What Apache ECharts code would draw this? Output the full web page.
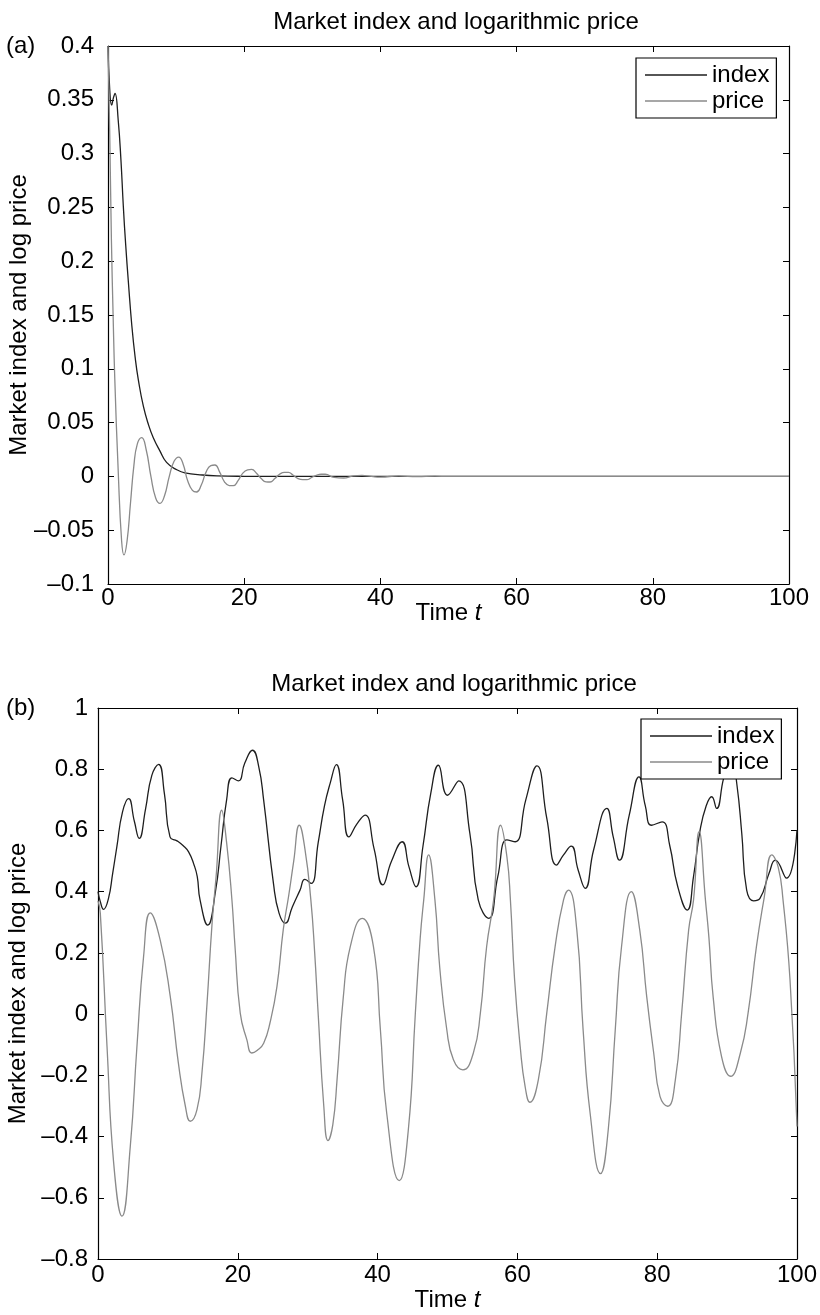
<!DOCTYPE html>
<html>
<head>
<meta charset="utf-8">
<script src="https://cdn.jsdelivr.net/npm/echarts@6/dist/echarts.min.js"></script>
<style>
html,body{margin:0;padding:0;background:#fff;}
#chart{width:820px;height:1315px;}
</style>
</head>
<body>
<div id="chart"></div>
<script>
// ---------- data ----------
const chartTitle = 'Market index and logarithmic price';
const yAxisTitle = 'Market index and log price';
const seriesNames = ['index', 'price'];

// Panel (a)
const indexA = [[0,0.40],[0.25,0.36],[0.54,0.345],[0.8,0.352],[1.03,0.356],[1.5,0.331],[1.9,0.294],[2.25,0.251],[2.6,0.215],[3.0,0.18],[3.5,0.14],[4.0,0.11],[4.45,0.09],[5.2,0.065],[6.0,0.047],[6.65,0.036],[7.6,0.024],[8.6,0.013],[10.1,0.0062],[11.5,0.003],[13.5,0.0015],[16,0.0005],[20,0.0001],[25,0],[100,0]];
const priceA = [[0,0.40],[0.25,0.32],[0.5,0.22],[0.75,0.15],[1.0,0.09],[1.5,0.005],[2.0,-0.06],[2.35,-0.073],[2.8,-0.06],[3.3,-0.025],[3.8,0.01],[4.3,0.03],[4.95,0.036],[5.6,0.025],[6.3,0.0],[7.0,-0.02],[7.63,-0.025],[8.3,-0.018],[9.0,0.0],[9.7,0.014],[10.38,0.018],[11.0,0.012],[11.7,-0.004],[12.4,-0.013],[13.0,-0.0145],[13.7,-0.008],[14.4,0.004],[15.1,0.010],[15.7,0.0106],[16.4,0.004],[17.1,-0.005],[17.8,-0.0085],[18.4,-0.0086],[19.1,-0.004],[19.8,0.003],[20.5,0.006],[21.1,0.0065],[21.8,0.003],[22.5,-0.002],[23.2,-0.005],[23.8,-0.0052],[24.5,-0.002],[25.2,0.002],[25.9,0.0037],[26.5,0.0037],[27.2,0.001],[27.9,-0.002],[28.6,-0.003],[29.2,-0.003],[29.9,-0.001],[30.6,0.001],[31.3,0.002],[31.9,0.002],[33.2,-0.001],[34.6,-0.0015],[36.0,0.0005],[37.3,0.001],[38.7,0],[40,-0.0007],[42.7,0.0005],[45.4,-0.0003],[48,0.0002],[50,0],[100,0]];

// Panel (b)
const indexB = [[0,0.40],[0.3,0.37],[0.8,0.342],[1.5,0.378],[2.1,0.46],[2.7,0.547],[3.5,0.66],[4.38,0.704],[5.2,0.63],[5.9,0.574],[6.8,0.67],[7.7,0.78],[8.67,0.816],[9.5,0.72],[10.3,0.579],[11.3,0.566],[12.2,0.55],[12.96,0.530],[13.7,0.49],[14.2,0.449],[14.6,0.373],[15.7,0.291],[16.8,0.40],[17.6,0.55],[18.4,0.70],[19.16,0.772],[20.1,0.762],[21.0,0.82],[22.1,0.862],[23.0,0.808],[23.7,0.699],[25.1,0.427],[25.9,0.33],[26.8,0.297],[27.8,0.35],[28.9,0.405],[29.6,0.44],[30.5,0.427],[31.5,0.56],[32.4,0.68],[33.2,0.753],[34.1,0.815],[35.0,0.70],[35.9,0.579],[37.0,0.62],[38.2,0.650],[39.5,0.54],[40.75,0.422],[42,0.50],[43.5,0.563],[44.5,0.48],[45.5,0.416],[46.5,0.55],[47.6,0.72],[48.7,0.813],[50.0,0.715],[51.6,0.762],[53.2,0.59],[54.4,0.373],[55.9,0.313],[57.2,0.45],[58.5,0.569],[59.7,0.563],[61.2,0.7],[62.8,0.811],[64.2,0.64],[65.6,0.487],[66.6,0.52],[67.7,0.549],[68.7,0.47],[69.7,0.411],[70.9,0.536],[72.8,0.672],[73.7,0.58],[74.6,0.503],[76.0,0.65],[77.4,0.775],[78.3,0.68],[79.2,0.617],[80.7,0.628],[81.8,0.55],[82.9,0.42],[84.3,0.34],[85.2,0.45],[86.1,0.596],[87.0,0.68],[87.8,0.71],[88.5,0.672],[89.5,0.77],[90.6,0.85],[91.4,0.75],[92.1,0.59],[92.8,0.405],[93.8,0.37],[94.7,0.378],[96.0,0.46],[96.9,0.503],[98.5,0.444],[100,0.601]];
const priceB = [[0,0.37],[0.33,0.33],[1.29,-0.106],[2.24,-0.486],[3.43,-0.66],[4.62,-0.432],[5.57,-0.106],[6.52,0.188],[7.48,0.331],[8.9,0.242],[10.34,0.057],[11.5,-0.16],[12.5,-0.301],[13.2,-0.35],[14.16,-0.312],[14.87,-0.192],[15.6,0.036],[16.3,0.29],[16.9,0.45],[17.7,0.666],[18.4,0.56],[19.16,0.373],[19.6,0.221],[20.35,0.003],[21.3,-0.084],[22.0,-0.127],[22.8,-0.118],[23.7,-0.095],[24.6,-0.029],[25.6,0.09],[26.5,0.275],[27.3,0.39],[28.0,0.5],[28.8,0.617],[29.6,0.54],[30.45,0.373],[31.0,0.2],[31.5,0.0],[32.3,-0.30],[32.9,-0.413],[33.6,-0.36],[34.2,-0.214],[35.1,0.057],[36.1,0.221],[37.8,0.313],[39.4,0.221],[40.4,-0.051],[41.3,-0.323],[43.1,-0.544],[44.4,-0.377],[45.4,0.003],[46.1,0.25],[46.6,0.373],[47.3,0.52],[48.2,0.373],[48.9,0.15],[49.9,-0.051],[50.85,-0.149],[52.2,-0.182],[53.7,-0.127],[54.7,0.003],[55.6,0.221],[56.6,0.373],[57.6,0.617],[58.5,0.514],[59.0,0.373],[59.6,0.112],[60.4,-0.106],[61.1,-0.236],[61.8,-0.288],[63.0,-0.214],[64.2,0.003],[65.4,0.221],[66.6,0.373],[67.3,0.405],[68.5,0.275],[69.4,-0.051],[70.4,-0.323],[71.9,-0.521],[73.0,-0.377],[74.0,-0.051],[74.9,0.221],[76.3,0.40],[77.5,0.275],[78.5,0.057],[79.5,-0.127],[80.4,-0.269],[81.5,-0.301],[82.6,-0.214],[83.5,0.003],[84.5,0.275],[85.2,0.373],[86.0,0.596],[86.9,0.373],[87.4,0.25],[88.0,0.057],[89.2,-0.138],[90.5,-0.203],[91.9,-0.127],[93.0,0.003],[94.2,0.221],[95.3,0.38],[96.4,0.52],[97.3,0.481],[98.0,0.373],[99.0,0.112],[100,-0.367]];

// axis ranges
const xRange = {min: 0, max: 100, interval: 20};
const yRangeA = {min: -0.1, max: 0.4, interval: 0.05};
const yRangeB = {min: -0.8, max: 1, interval: 0.2};

// ---------- styling ----------
const FONT = '"Liberation Sans", Arial, Helvetica, sans-serif';
const FS = 24;
const INDEX_COLOR = '#1e1e1e';
const PRICE_COLOR = '#8a8a8a';

function fmt(v) {
  const s = String(Math.round(v * 1000) / 1000);
  return s.replace('-', '\u2013');
}

function xAxisPair(gridIndex, labelMargin, nameGap) {
  const base = {
    type: 'value', gridIndex: gridIndex,
    min: xRange.min, max: xRange.max, interval: xRange.interval,
    axisLine: {show: true, onZero: false, lineStyle: {color: '#000', width: 1.2}},
    axisTick: {show: true, inside: true, length: 6, lineStyle: {color: '#000', width: 1}},
    splitLine: {show: false}
  };
  return [
    Object.assign({}, base, {
      position: 'bottom',
      axisLabel: {color: '#000', fontFamily: FONT, fontSize: FS, margin: labelMargin, formatter: fmt},
      name: '{n|Time }{i|t}', nameLocation: 'middle', nameGap: nameGap, nameMoveOverlap: false,
      nameTextStyle: {rich: {n: {fontFamily: FONT, fontSize: FS, color: '#000'}, i: {fontFamily: FONT, fontSize: FS, fontStyle: 'italic', color: '#000'}}}
    }),
    Object.assign({}, base, {position: 'top', axisLabel: {show: false}})
  ];
}

function yAxisPair(gridIndex, r, labelMargin, nameGap) {
  const base = {
    type: 'value', gridIndex: gridIndex,
    min: r.min, max: r.max, interval: r.interval,
    axisLine: {show: true, onZero: false, lineStyle: {color: '#000', width: 1.2}},
    axisTick: {show: true, inside: true, length: 6, lineStyle: {color: '#000', width: 1}},
    splitLine: {show: false}
  };
  return [
    Object.assign({}, base, {
      position: 'left',
      axisLabel: {color: '#000', fontFamily: FONT, fontSize: FS, margin: labelMargin, formatter: fmt},
      name: yAxisTitle, nameLocation: 'middle', nameGap: nameGap, nameMoveOverlap: false,
      nameTextStyle: {fontFamily: FONT, fontSize: FS, color: '#000'}
    }),
    Object.assign({}, base, {position: 'right', axisLabel: {show: false}})
  ];
}

function lineSeries(name, data, xi, yi, color) {
  return {
    name: name, type: 'line', xAxisIndex: xi, yAxisIndex: yi,
    data: data, showSymbol: false, symbol: 'none',
    smooth: 0.5,
    lineStyle: {color: color, width: 1.3},
    itemStyle: {color: color},
    animation: false
  };
}

function legendAt(left, top) {
  return {
    orient: 'vertical', left: left, top: top,
    data: seriesNames.map(n => ({name: n, icon: 'rect'})),
    itemWidth: 62, itemHeight: 1.4, itemGap: 2,
    padding: [5, 7, 5, 9],
    borderColor: '#000', borderWidth: 1.2, backgroundColor: '#fff',
    textStyle: {fontFamily: FONT, fontSize: FS, color: '#000', lineHeight: 24},
    selectedMode: false
  };
}

const chart = echarts.init(document.getElementById('chart'), null, {renderer: 'canvas'});
const option = {
  backgroundColor: '#fff',
  animation: false,
  title: [
    {text: chartTitle, left: 451, top: 5, textAlign: 'center', textStyle: {fontFamily: FONT, fontSize: FS, fontWeight: 'normal', color: '#000'}},
    {text: chartTitle, left: 449, top: 667, textAlign: 'center', textStyle: {fontFamily: FONT, fontSize: FS, fontWeight: 'normal', color: '#000'}}
  ],
  graphic: [
    {type: 'text', left: 6, top: 34, style: {text: '(a)', font: FS + 'px ' + FONT, fill: '#000'}},
    {type: 'text', left: 6, top: 696, style: {text: '(b)', font: FS + 'px ' + FONT, fill: '#000'}}
  ],
  grid: [
    {left: 108, top: 46, width: 681, height: 538, containLabel: false, outerBoundsMode: 'none'},
    {left: 98, top: 708, width: 699, height: 551, containLabel: false, outerBoundsMode: 'none'}
  ],
  xAxis: [].concat(xAxisPair(0, 2, 17), xAxisPair(1, 4, 29)),
  yAxis: [].concat(yAxisPair(0, yRangeA, 14, 77), yAxisPair(1, yRangeB, 10, 68)),
  legend: [legendAt(636, 58), legendAt(641, 719)],
  series: [
    lineSeries(seriesNames[0], indexA, 0, 0, INDEX_COLOR),
    lineSeries(seriesNames[1], priceA, 0, 0, PRICE_COLOR),
    lineSeries(seriesNames[0], indexB, 2, 2, INDEX_COLOR),
    lineSeries(seriesNames[1], priceB, 2, 2, PRICE_COLOR)
  ]
};
chart.setOption(option);
</script>
</body>
</html>
